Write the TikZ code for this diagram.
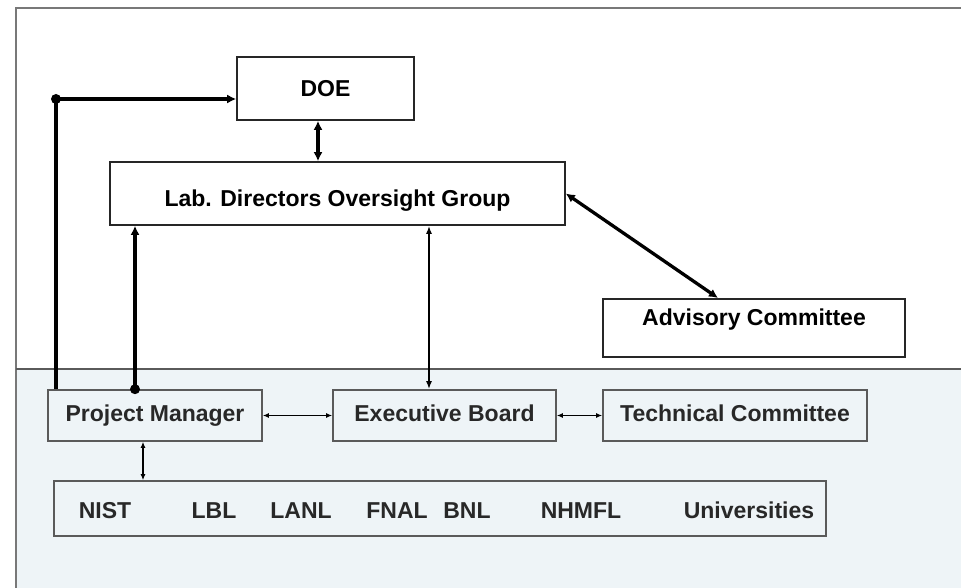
\documentclass[tikz,border=0pt]{standalone}
\usepackage{fontspec}
\setmainfont{Liberation Sans}
\usetikzlibrary{arrows.meta}
\definecolor{panelblue}{RGB}{238,244,247}
\definecolor{framegray}{RGB}{120,120,120}
\definecolor{boxgray}{RGB}{90,90,90}
\definecolor{textgray}{RGB}{40,40,40}

\begin{document}
\begin{tikzpicture}[x=1pt, y=-1pt,
    font=\fontsize{23}{27}\selectfont\bfseries,
    >={Latex[length=8pt,width=6pt]},
    topbox/.style={draw=black!85, line width=1.6pt, fill=white, inner sep=0pt},
    lowbox/.style={draw=boxgray, line width=1.6pt, fill=panelblue, inner sep=0pt, text=textgray,
        minimum height=51pt, text height=16pt, text depth=5pt},
    thickline/.style={line width=3.3pt, >={Latex[length=9pt,width=9pt]}},
    thinline/.style={line width=1.3pt, >={Latex[length=6pt,width=5pt]}}]
\useasboundingbox (0,0) rectangle (961,588);
% Frame and shaded lower panel
\fill[panelblue] (16,369) rectangle (961,588);
\draw[framegray, line width=1.2pt] (16,588) -- (16,8) -- (961,8);
\draw[boxgray, line width=1.6pt] (16,369) -- (961,369);

% Upper boxes
\node[topbox, minimum width=177pt, minimum height=63pt, text height=17pt, text depth=0pt] (doe) at (325.5,88.5) {DOE};
\node[topbox, minimum width=455pt, minimum height=63pt, text height=30pt, text depth=3pt] (lab) at (337.5,193.5) {Lab. Directors Oversight Group};
\node[topbox, minimum width=302pt, text height=27pt, text depth=31pt, anchor=north] (adv) at (754,298) {Advisory Committee};

% Lower boxes
\node[lowbox, minimum width=214pt] (pm) at (155,415.5) {Project Manager};
\node[lowbox, minimum width=223pt] (eb) at (444.5,415.5) {Executive Board};
\node[lowbox, minimum width=264pt] (tc) at (735,415.5) {Technical Committee};
\node[lowbox, minimum width=772pt, minimum height=55pt] (orgs) at (440,508.5) {};
\foreach \name/\x in {NIST/105, LBL/214, LANL/301, FNAL/397, BNL/467, NHMFL/581, Universities/749}
    \node[text=textgray, anchor=base] (org\name) at (\x,518) {\name};

% Reporting lines
\coordinate (bend) at (56,99);
\draw[thickline, ->] (bend |- pm.north) -- (bend) -- (bend -| doe.west);
\fill (bend) circle (5pt);
\coordinate (tap) at (135,391);
\draw[thickline, ->] (tap |- pm.north) -- (tap |- lab.south);
\fill (tap |- pm.north) circle (5pt);
\coordinate (ebx) at (429,0);
\draw[<->, line width=2pt] (ebx |- eb.north) -- (ebx |- lab.south);
\coordinate (doex) at (318,0);
\draw[thickline, <->] (doex |- doe.south) -- (doex |- lab.north);
\coordinate (advx) at (718,0);
\draw[thickline, <->] (lab.east) -- (advx |- adv.north);

% Lower panel links
\draw[thinline, <->] (pm.east) -- (eb.west);
\draw[thinline, <->] (eb.east) -- (tc.west);
\coordinate (orgx) at (143,0);
\draw[thinline, <->] (orgx |- pm.south) -- (orgx |- orgs.north);
\end{tikzpicture}
\end{document}
